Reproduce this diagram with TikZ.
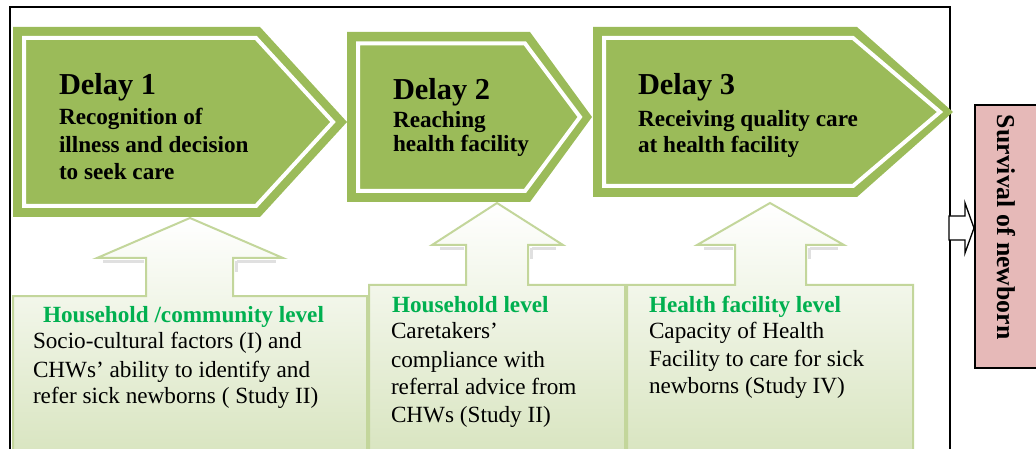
\documentclass[tikz,border=0pt]{standalone}
\usepackage{fontspec}
\setmainfont{Liberation Serif}
\definecolor{dgreen}{HTML}{9BBB59}
\definecolor{hdgreen}{HTML}{00B050}
\definecolor{boxline}{HTML}{C3D69B}
\definecolor{boxfill}{HTML}{D6E3BC}
\definecolor{pinkfill}{HTML}{E6B9B8}
\tikzset{
  delayshape/.style={fill=dgreen, draw=none},
  delayinner/.style={draw=white, line width=3pt, line join=miter},
  levelshape/.style={draw=boxline, line width=1.5pt, top color=white, bottom color=boxfill, line join=miter},
  headshadow/.style={draw=black!40, line width=2.2pt, opacity=0.3},
  txt/.style={anchor=base west, inner sep=0pt, outer sep=0pt},
  ttl/.style={txt, font=\fontsize{22.8}{26}\selectfont\bfseries},
  sub/.style={txt, font=\fontsize{17.4}{20}\selectfont\bfseries},
  body/.style={txt, font=\fontsize{17.4}{20}\selectfont},
  hd/.style={txt, font=\fontsize{17.4}{20}\selectfont\bfseries, text=hdgreen},
}
\begin{document}
\begin{tikzpicture}[x=0.75pt,y=-0.75pt]
\useasboundingbox (0,0) rectangle (1036,449);
% outer frame
\draw[line width=1.3pt] (10,7) rectangle (950,470);

% soft shadows under arrow heads
\draw[headshadow] (103,261.5) -- (144,261.5);
\draw[headshadow] (237,261.5) -- (276,261.5) (236.5,261.5) -- (236.5,272);
\draw[headshadow] (440,248.5) -- (464,248.5);
\draw[headshadow] (532,248.5) -- (556,248.5) (531.5,248.5) -- (531.5,259);
\draw[headshadow] (704,248.5) -- (733,248.5);
\draw[headshadow] (810,248.5) -- (838,248.5) (809.5,248.5) -- (809.5,259);

% level boxes with up arrows
\path[levelshape] (13,470) -- (13,296) -- (146,296) -- (146,258) -- (97,258) -- (190,218) -- (283,258) -- (233,258) -- (233,296) -- (367,296) -- (367,470);
\path[levelshape] (369,470) -- (369,285) -- (466,285) -- (466,245) -- (432,245) -- (497,203) -- (563,245) -- (528,245) -- (528,285) -- (625,285) -- (625,470);
\path[levelshape] (627,470) -- (627,285) -- (735,285) -- (735,245) -- (697,245) -- (770,203) -- (844,245) -- (806,245) -- (806,285) -- (913,285) -- (913,470);

% delay arrows
\path[delayshape] (13,27) -- (260,27) -- (347,122) -- (260,217) -- (13,217) -- cycle;
\draw[delayinner] (24,38) -- (256,38) -- (333,122) -- (256,206) -- (24,206) -- cycle;
\path[delayshape] (347,32) -- (530,32) -- (592,117) -- (530,202) -- (347,202) -- cycle;
\draw[delayinner] (358,43.5) -- (525,43.5) -- (580,117) -- (525,191) -- (358,191) -- cycle;
\path[delayshape] (593,27) -- (857,27) -- (953,112) -- (857,197) -- (593,197) -- cycle;
\draw[delayinner] (604,38) -- (853,38) -- (940,112) -- (853,186) -- (604,186) -- cycle;

% delay texts
\node[ttl] (d1t) at (59,95) {Delay 1};
\node[sub] (d1a) at (59,125) {Recognition of};
\node[sub] (d1b) at (59,153) {illness and decision};
\node[sub] (d1c) at (59,180) {to seek care};
\node[ttl] (d2t) at (393,100) {Delay 2};
\node[sub] (d2a) at (393,128) {Reaching};
\node[sub] (d2b) at (393,152) {health facility};
\node[ttl] (d3t) at (638,95) {Delay 3};
\node[sub] (d3a) at (638,127) {Receiving quality care};
\node[sub] (d3b) at (638,153) {at health facility};

% level texts
\node[hd] (h1) at (43,322) {Household /community level};
\node[body] (b1a) at (33,349) {Socio-cultural factors (I) and};
\node[body] (b1b) at (33,377) {CHWs’ ability to identify and};
\node[body] (b1c) at (33,403) {refer sick newborns ( Study II)};
\node[hd] (h2) at (392,312) {Household level};
\node[body] (b2a) at (391,339) {Caretakers’};
\node[body] (b2b) at (391,367) {compliance with};
\node[body] (b2c) at (391,394) {referral advice from};
\node[body] (b2d) at (391,422) {CHWs (Study II)};
\node[hd] (h3) at (649,312) {Health facility level};
\node[body] (b3a) at (649,339) {Capacity of Health};
\node[body] (b3b) at (649,366) {Facility to care for sick};
\node[body] (b3c) at (649,393) {newborns (Study IV)};

% survival box
\draw[fill=pinkfill, line width=1.3pt] (975,105) rectangle (1045,368);
\node[txt, rotate=-90, font=\fontsize{19.3}{22}\selectfont\bfseries] (surv) at (997,115) {Survival of newborn};

% small block arrow
\draw[fill=white, line width=1pt, line join=miter] (949,216) -- (965,216) -- (965,203) -- (974,228) -- (965,253) -- (965,240) -- (949,240) -- cycle;
\end{tikzpicture}
\end{document}
